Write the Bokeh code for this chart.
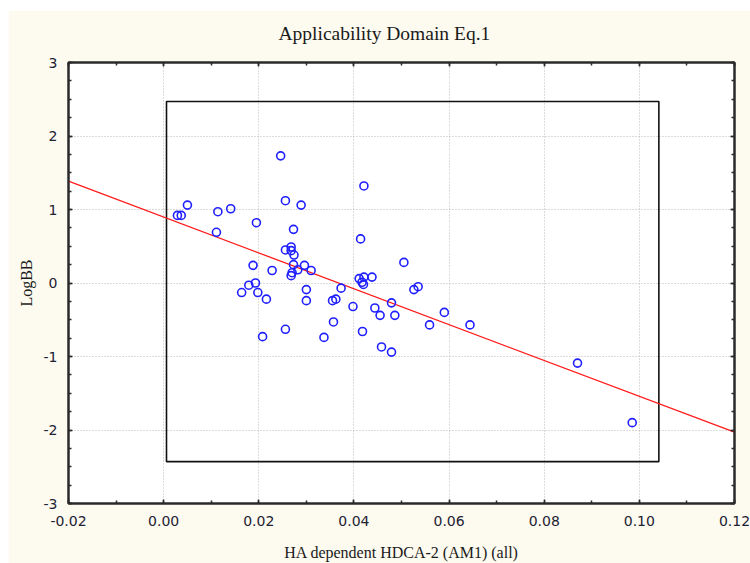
from bokeh.plotting import figure
from bokeh.models import (LinearAxis, SingleIntervalTicker, NumeralTickFormatter, Range1d,
                          CustomJSTickFormatter, Title)
from bokeh.embed import file_html
from bokeh.resources import INLINE

# ---- data ----
hdca_x = [0.0029, 0.0037, 0.0050, 0.0114, 0.0111, 0.0141, 0.0195, 0.0188, 0.0179, 0.0193,
          0.0164, 0.0198, 0.0216, 0.0208, 0.0228, 0.0246, 0.0256, 0.0289, 0.0273, 0.0268,
          0.0256, 0.0268, 0.0274, 0.0273, 0.0296, 0.0282, 0.0270, 0.0268, 0.0310, 0.0300,
          0.0300, 0.0256, 0.0337, 0.0373, 0.0355, 0.0362, 0.0357, 0.0398, 0.0421, 0.0414,
          0.0411, 0.0421, 0.0438, 0.0417, 0.0420, 0.0418, 0.0444, 0.0455, 0.0479, 0.0486,
          0.0458, 0.0479, 0.0505, 0.0526, 0.0535, 0.0559, 0.0590, 0.0644, 0.0870, 0.0985]
logbb_y = [0.92, 0.92, 1.06, 0.97, 0.69, 1.01, 0.82, 0.24, -0.03, 0.00,
           -0.13, -0.13, -0.22, -0.73, 0.17, 1.73, 1.12, 1.06, 0.73, 0.49,
           0.45, 0.44, 0.38, 0.25, 0.24, 0.18, 0.14, 0.10, 0.17, -0.09,
           -0.24, -0.63, -0.74, -0.07, -0.24, -0.22, -0.53, -0.32, 1.32, 0.60,
           0.06, 0.08, 0.08, 0.01, -0.02, -0.66, -0.34, -0.44, -0.27, -0.44,
           -0.87, -0.94, 0.28, -0.09, -0.05, -0.57, -0.40, -0.57, -1.09, -1.90]

# regression line end points
fit_x = [-0.02, 0.12]
fit_y = [1.385, -2.03]

# applicability domain box
ad_left = [0.0006]
ad_right = [0.1041]
ad_bottom = [-2.43]
ad_top = [2.47]

title_text = "Applicability Domain Eq.1"
x_label = "HA dependent HDCA-2 (AM1) (all)"
y_label = "LogBB"

CREAM = "#fdfaef"
FRAME = "#2a2a2a"
SERIF = "Liberation Serif"
SANS = "DejaVu Sans"

p = figure(width=742, height=553, margin=(10, 0, 0, 8),
           output_backend="svg", toolbar_location=None,
           x_range=Range1d(-0.02, 0.12), y_range=Range1d(-3, 3),
           x_axis_location=None, y_axis_location=None,
           min_border_left=60, min_border_right=16,
           min_border_top=52, min_border_bottom=59,
           background_fill_color="white", border_fill_color=CREAM)

p.outline_line_color = FRAME
p.outline_line_width = 2

xt = SingleIntervalTicker(interval=0.02, num_minor_ticks=2)
yt = SingleIntervalTicker(interval=1, num_minor_ticks=4)

blank = CustomJSTickFormatter(code="return ''")


def style_axis(ax, show_labels):
    ax.axis_line_color = FRAME
    ax.axis_line_width = 2
    ax.major_tick_in = 4
    ax.major_tick_out = 0
    ax.minor_tick_in = 3
    ax.minor_tick_out = 0
    ax.major_tick_line_color = FRAME
    ax.minor_tick_line_color = FRAME
    ax.major_tick_line_width = 1.5
    ax.minor_tick_line_width = 1.5
    if show_labels:
        ax.major_label_text_font = SANS
        ax.major_label_text_font_size = "14px"
        ax.major_label_text_color = "#1e2233"
        ax.axis_label_text_font = SERIF
        ax.axis_label_text_font_size = "16px"
        ax.axis_label_text_font_style = "normal"
        ax.axis_label_text_color = "#1a1a1a"
    else:
        ax.formatter = blank
        ax.major_label_standoff = 0
        ax.axis_label = None


xb = LinearAxis(ticker=xt, formatter=NumeralTickFormatter(format="0.00"), axis_label=x_label)
style_axis(xb, True)
xb.major_label_standoff = 12
xb.axis_label_standoff = 15
p.add_layout(xb, "below")

yl = LinearAxis(ticker=yt, formatter=NumeralTickFormatter(format="0"), axis_label=y_label)
style_axis(yl, True)
yl.major_label_standoff = 11
yl.axis_label_standoff = 6
p.add_layout(yl, "left")

xa = LinearAxis(ticker=xt)
style_axis(xa, False)
p.add_layout(xa, "above")

# invisible spacer between the top axis and the title
p.add_layout(Title(text=" ", text_font_size="1px", standoff=15), "above")

yr = LinearAxis(ticker=yt)
style_axis(yr, False)
p.add_layout(yr, "right")

p.xgrid.ticker = xt
p.ygrid.ticker = yt
for g in (p.xgrid, p.ygrid):
    g.grid_line_color = "#b8b8b8"
    g.grid_line_dash = "1 2"
    g.grid_line_width = 1

p.title.text = title_text
p.title.text_font = SERIF
p.title.text_font_size = "19.5px"
p.title.text_font_style = "normal"
p.title.text_color = "#1a1a1a"
p.title.align = "left"
p.title.offset = 210
p.title.standoff = 2

p.quad(left=ad_left, right=ad_right, bottom=ad_bottom, top=ad_top,
       fill_color=None, line_color="#111111", line_width=1.6)

p.line(fit_x, fit_y, line_color="#ff1a1a", line_width=1.3)

p.scatter(hdca_x, logbb_y, marker="circle", size=8, fill_color=None,
          line_color="#1f1fff", line_width=1.6)

open("out.html", "w").write(file_html(p, INLINE))
